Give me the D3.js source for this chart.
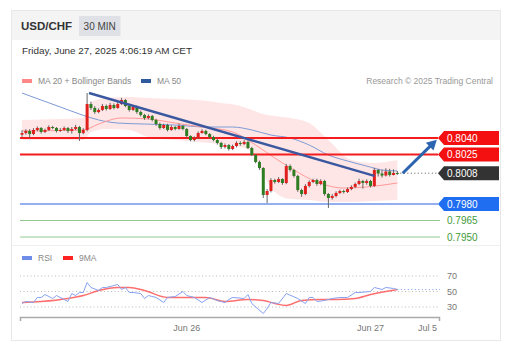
<!DOCTYPE html>
<html>
<head>
<meta charset="utf-8">
<script src="https://cdn.jsdelivr.net/npm/d3@7"></script>
<style>
  body { margin: 0; background: #fff; font-family: "Liberation Sans", Arial, sans-serif; }
</style>
</head>
<body>
<div id="chart"></div>
<script>
// candle closes (30 min), open = previous close
var closes = [0.80445,0.80464,0.80436,0.80473,0.80491,0.80455,0.80473,0.80500,0.80491,0.80464,
  0.80473,0.80491,0.80464,0.80482,0.80500,0.80445,0.80473,0.80709,0.80673,0.80636,
  0.80655,0.80691,0.80664,0.80700,0.80673,0.80709,0.80745,0.80691,0.80655,0.80682,
  0.80636,0.80609,0.80582,0.80600,0.80564,0.80527,0.80491,0.80518,0.80473,0.80500,
  0.80482,0.80509,0.80482,0.80418,0.80382,0.80400,0.80445,0.80464,0.80436,0.80409,
  0.80382,0.80355,0.80318,0.80336,0.80300,0.80327,0.80355,0.80345,0.80364,0.80309,
  0.80245,0.80182,0.80127,0.79882,0.79918,0.80018,0.80000,0.80027,0.79991,0.80145,
  0.80109,0.80055,0.79927,0.79891,0.79964,0.80000,0.80018,0.79982,0.80009,0.79891,
  0.79855,0.79873,0.79900,0.79918,0.79909,0.79936,0.79955,0.79982,0.80009,0.79991,
  0.80009,0.79964,0.80109,0.80077,0.80059,0.80095,0.80064,0.80082,0.80080];
var firstOpen = 0.80430;
var highs = [0.80470,0.80480,0.80480,0.80490,0.80505,0.80500,0.80485,0.80515,0.80510,0.80500,
  0.80490,0.80505,0.80500,0.80500,0.80520,0.80510,0.80490,0.80809,0.80730,0.80690,
  0.80670,0.80710,0.80705,0.80720,0.80715,0.80730,0.80765,0.80755,0.80700,0.80700,
  0.80695,0.80650,0.80620,0.80615,0.80610,0.80575,0.80540,0.80530,0.80530,0.80515,
  0.80510,0.80530,0.80520,0.80490,0.80425,0.80415,0.80460,0.80480,0.80475,0.80445,
  0.80420,0.80395,0.80365,0.80350,0.80345,0.80340,0.80370,0.80370,0.80380,0.80375,
  0.80320,0.80255,0.80195,0.80135,0.79935,0.80035,0.80030,0.80045,0.80035,0.80165,
  0.80160,0.80120,0.80065,0.79940,0.79980,0.80015,0.80030,0.80030,0.80025,0.80020,
  0.79900,0.79890,0.79915,0.79930,0.79930,0.79950,0.79970,0.79995,0.80030,0.80020,
  0.80025,0.80020,0.80130,0.80120,0.80110,0.80125,0.80120,0.80115,0.80100];
var lows = [0.80410,0.80430,0.80400,0.80425,0.80460,0.80440,0.80445,0.80465,0.80480,0.80450,
  0.80455,0.80465,0.80445,0.80440,0.80470,0.80373,0.80435,0.80460,0.80655,0.80620,
  0.80625,0.80645,0.80650,0.80655,0.80660,0.80665,0.80700,0.80680,0.80640,0.80645,
  0.80620,0.80595,0.80565,0.80570,0.80550,0.80510,0.80475,0.80480,0.80460,0.80465,
  0.80470,0.80475,0.80470,0.80405,0.80370,0.80370,0.80390,0.80440,0.80425,0.80395,
  0.80370,0.80340,0.80300,0.80305,0.80285,0.80290,0.80315,0.80330,0.80335,0.80300,
  0.80235,0.80170,0.80110,0.79855,0.79809,0.79905,0.79985,0.79990,0.79975,0.79980,
  0.80095,0.80040,0.79910,0.79865,0.79880,0.79950,0.79990,0.79965,0.79970,0.79875,
  0.79764,0.79840,0.79860,0.79890,0.79895,0.79900,0.79925,0.79945,0.79970,0.79940,
  0.79975,0.79950,0.79955,0.80050,0.80040,0.80050,0.80050,0.80060,0.80065];

// indicators read at sample candles
var bandIdx = [0,10,16,18,22,28,33,40,46,52,56,60,63,66,70,75,80,86,92,98];
var bandUpper = [0.80564,0.80573,0.80582,0.80727,0.80764,0.80773,0.80764,0.80755,0.80745,0.80718,
  0.80700,0.80655,0.80618,0.80600,0.80582,0.80536,0.80382,0.80200,0.80173,0.80200];
var bandLower = [0.80382,0.80382,0.80382,0.80455,0.80482,0.80473,0.80409,0.80382,0.80364,0.80345,
  0.80327,0.80273,0.80064,0.79909,0.79845,0.79836,0.79818,0.79818,0.79827,0.79836];
var ma20Idx = [0,16,20,26,33,40,47,55,61,66,71,77,84,90,98];
var ma20 = [0.80464,0.80473,0.80527,0.80582,0.80573,0.80536,0.80500,0.80455,0.80336,0.80218,
  0.80109,0.80000,0.79945,0.79955,0.79991];
var ma50Idx = [0,5,10,15,20,25,32,40,48,55,60,65,70,75,80,85,90,94,98];
var ma50 = [0.80809,0.80745,0.80682,0.80618,0.80564,0.80536,0.80527,0.80518,0.80500,0.80500,
  0.80473,0.80427,0.80400,0.80336,0.80245,0.80191,0.80145,0.80109,0.80100];

var trendIdx = [17.5, 92];
var trendVal = [0.80809, 0.80055];
var arrowIdx = [99.4, 108.3];
var arrowVal = [0.80080, 0.80385];

var levels = [0.8040, 0.8025, 0.8008, 0.7980, 0.7965, 0.7950];
var levelKinds = ["res", "res", "last", "sup", "minor", "minor"];

var rsiIdx = [0,1,3,4,5,6,8,9,11,12,13,14,15,16,17,18,20,21,22,24,25,26,27,28,29,31,32,33,35,37,38,40,42,43,45,47,49,51,52,53,54,55,58,59,60,63,64,65,67,69,72,74,75,76,77,79,81,83,85,87,88,91,92,94,95,97,98];
var rsi = [34.5,37.1,35.8,42.3,42.3,46.1,41,44.8,39.7,37.1,47.4,44.8,48.7,48.7,61.6,55.2,51.3,55.2,55.2,57.7,59,52.6,55.2,48.7,48.7,47.4,41,44.8,42.3,35.8,42.3,43.5,50,44.8,42.3,35.8,42.3,38.4,37.1,35.8,39.7,42.3,41,46.1,34.5,21.6,28.1,35.8,34.5,47.4,41,34.5,42.3,42.3,37.1,38.4,41,42.3,42.3,48.7,48.7,50,55.2,52.6,55.2,53.9,52.6];
var rsiMaIdx = [0,5,12,16,20,25,28,32,38,42,48,53,59,63,66,69,73,78,82,87,91,95,98];
var rsiMa = [35.8,37.1,41,44.8,51.3,55.2,55.2,51.3,42.3,42.3,42.3,37.1,39.7,38.4,34.5,31.9,38.4,39.7,39.7,41,46.1,50,52.6];
var rsiTicks = [70, 50, 30];

var dateTicks = [43, 91, 109.1];
var dateLabels = ["Jun 26", "Jun 27", "Jul 5"];

var W = 508, H = 353;
var svg = d3.select("#chart").append("svg")
  .attr("width", W).attr("height", H);

// card + header
svg.append("rect").attr("x", 11.5).attr("y", 10.5).attr("width", 489).attr("height", 330)
  .attr("fill", "#fff").attr("stroke", "#e8e8e8");
svg.append("rect").attr("x", 12).attr("y", 11).attr("width", 488).attr("height", 29)
  .attr("fill", "#f4f4f4");
svg.append("text").attr("x", 21).attr("y", 29.5).text("USD/CHF")
  .attr("font-size", 11.5).attr("font-weight", "bold").attr("fill", "#333");
svg.append("rect").attr("x", 79).attr("y", 16).attr("width", 41.5).attr("height", 20)
  .attr("fill", "#dfe1e6");
svg.append("text").attr("x", 99.7).attr("y", 29.5).attr("text-anchor", "middle").text("30 MIN")
  .attr("font-size", 10).attr("fill", "#444");
svg.append("text").attr("x", 22).attr("y", 53.5).text("Friday, June 27, 2025 4:06:19 AM CET")
  .attr("font-size", 9.9).attr("fill", "#333");

// legends
function legend(x, y, color, label) {
  svg.append("rect").attr("x", x).attr("y", y - 2).attr("width", 10).attr("height", 4).attr("fill", color);
  svg.append("text").attr("x", x + 16).attr("y", y + 3).text(label)
    .attr("font-size", 8.5).attr("fill", "#888");
}
legend(22, 81, "#f88", "MA 20 + Bollinger Bands");
legend(141, 81, "#2f5a9e", "MA 50");
svg.append("text").attr("x", 493).attr("y", 84).attr("text-anchor", "end")
  .text("Research \u00a9 2025 Trading Central").attr("font-size", 8.5).attr("fill", "#999");

var x = d3.scaleLinear().domain([0, 109.14]).range([22, 440]);
var y = d3.scaleLinear().domain([0.7950, 0.8040]).range([237, 138]);
var ry = d3.scaleLinear().domain([30, 70]).range([307, 276]);

// bollinger band
var area = d3.area().curve(d3.curveMonotoneX)
  .x(function(d, i) { return x(bandIdx[i]); })
  .y0(function(d, i) { return y(bandLower[i]); })
  .y1(function(d, i) { return y(bandUpper[i]); });
svg.append("path").datum(bandIdx).attr("d", area).attr("fill", "#ffe6e6");

var line = d3.line().curve(d3.curveMonotoneX);
svg.append("path")
  .attr("d", line(ma50Idx.map(function(d, i) { return [x(d), y(ma50[i])]; })))
  .attr("fill", "none").attr("stroke", "#7d9ad6").attr("stroke-width", 1);
svg.append("path")
  .attr("d", line(ma20Idx.map(function(d, i) { return [x(d), y(ma20[i])]; })))
  .attr("fill", "none").attr("stroke", "#f99").attr("stroke-width", 1);

// level lines
var lvlColor = { res: "#f41c1c", last: "#333", sup: "#6f95ee", minor: "#93c98f" };
levels.forEach(function(v, i) {
  var k = levelKinds[i];
  if (k === "last") {
    svg.append("line").attr("x1", x(closes.length - 1) + 3).attr("x2", 438)
      .attr("y1", y(v)).attr("y2", y(v))
      .attr("stroke", "#555").attr("stroke-width", 1).attr("stroke-dasharray", "1,2.5");
  } else {
    svg.append("line").attr("x1", 20).attr("x2", k === "minor" ? 440 : 438)
      .attr("y1", y(v)).attr("y2", y(v))
      .attr("stroke", lvlColor[k]).attr("stroke-width", k === "res" ? 2 : (k === "sup" ? 1.5 : 1));
  }
});

// candles
var candles = svg.append("g");
closes.forEach(function(c, i) {
  var o = i === 0 ? firstOpen : closes[i - 1];
  var up = c >= o;
  var col = up ? "#e0201c" : "#2e7d22";
  candles.append("line").attr("x1", x(i)).attr("x2", x(i))
    .attr("y1", y(highs[i])).attr("y2", y(lows[i]))
    .attr("stroke", "#666").attr("stroke-width", 1);
  var top = y(Math.max(o, c)), bot = y(Math.min(o, c));
  candles.append("rect").attr("x", x(i) - 1.5).attr("width", 3)
    .attr("y", top).attr("height", Math.max(1, bot - top)).attr("fill", col);
});

// trend line
svg.append("line").attr("x1", x(trendIdx[0])).attr("y1", y(trendVal[0]))
  .attr("x2", x(trendIdx[1])).attr("y2", y(trendVal[1]))
  .attr("stroke", "#3a58a0").attr("stroke-width", 2.4);

// arrow
var ax1 = x(arrowIdx[0]), ay1 = y(arrowVal[0]), ax2 = x(arrowIdx[1]), ay2 = y(arrowVal[1]);
var ang = Math.atan2(ay2 - ay1, ax2 - ax1);
svg.append("line").attr("x1", ax1).attr("y1", ay1)
  .attr("x2", ax2 - 6 * Math.cos(ang)).attr("y2", ay2 - 6 * Math.sin(ang))
  .attr("stroke", "#2d64b0").attr("stroke-width", 3);
var hl = 10, hw = 5.5;
var bx = ax2 - hl * Math.cos(ang), by = ay2 - hl * Math.sin(ang);
svg.append("path").attr("d", "M" + ax2 + "," + ay2 +
  "L" + (bx + hw * Math.sin(ang)) + "," + (by - hw * Math.cos(ang)) +
  "L" + (bx - hw * Math.sin(ang)) + "," + (by + hw * Math.cos(ang)) + "Z")
  .attr("fill", "#2d64b0");

// level labels
var boxColor = { res: "#f41010", last: "#333", sup: "#1f6ef2" };
levels.forEach(function(v, i) {
  var k = levelKinds[i], yy = y(v);
  if (k === "minor") {
    svg.append("text").attr("x", 447).attr("y", yy + 3.5).text(v.toFixed(4))
      .attr("font-size", 10).attr("fill", "#3f9a3a");
  } else {
    svg.append("path").attr("d", "M438," + yy + "L444," + (yy - 7) + "L499," + (yy - 7) +
      "L499," + (yy + 7) + "L444," + (yy + 7) + "Z").attr("fill", boxColor[k]);
    svg.append("text").attr("x", 447).attr("y", yy + 3.5).text(v.toFixed(4))
      .attr("font-size", 10).attr("fill", "#fff");
  }
});

// separator
svg.append("line").attr("x1", 12).attr("x2", 500).attr("y1", 245.5).attr("y2", 245.5)
  .attr("stroke", "#eee");

// RSI panel
legend(22, 258, "#6d8de8", "RSI");
legend(63, 258, "#f22", "9MA");
rsiTicks.forEach(function(t) {
  svg.append("line").attr("x1", 20).attr("x2", 440).attr("y1", ry(t)).attr("y2", ry(t))
    .attr("stroke", "#bbb").attr("stroke-dasharray", "1,2.5");
  svg.append("text").attr("x", 447).attr("y", ry(t) + 3).text(t)
    .attr("font-size", 9).attr("fill", "#777");
});
var lastR = rsi[rsi.length - 1];
svg.append("line").attr("x1", x(98)).attr("x2", 440).attr("y1", ry(lastR)).attr("y2", ry(lastR))
  .attr("stroke", "#7c9cf2").attr("stroke-dasharray", "1,2.5");
svg.append("path")
  .attr("d", line(rsiMaIdx.map(function(d, i) { return [x(d), ry(rsiMa[i])]; })))
  .attr("fill", "none").attr("stroke", "#f55").attr("stroke-width", 1.4).attr("opacity", 0.85);
svg.append("path")
  .attr("d", d3.line()(rsiIdx.map(function(d, i) { return [x(d), ry(rsi[i])]; })))
  .attr("fill", "none").attr("stroke", "#86a2f0").attr("stroke-width", 1);

// time axis
svg.append("path").attr("d", "M20.5,321V317.5H439.5V321")
  .attr("fill", "none").attr("stroke", "#aaa").attr("stroke-width", 1.5);
dateTicks.forEach(function(t, i) {
  var last = i === dateTicks.length - 1;
  svg.append("text").attr("x", last ? 437 : x(t)).attr("y", 331)
    .attr("text-anchor", last ? "end" : "middle").text(dateLabels[i])
    .attr("font-size", 9).attr("fill", "#777");
});
</script>
</body>
</html>
